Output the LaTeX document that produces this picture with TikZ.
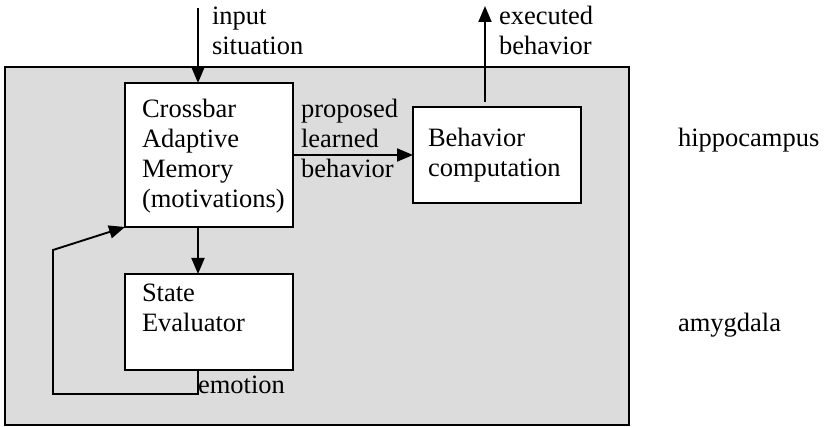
\documentclass[tikz,border=0pt]{standalone}
\usepackage{fontspec}
\setmainfont{Liberation Serif}
\usetikzlibrary{arrows.meta}
\definecolor{regionfill}{RGB}{220,220,220}
\begin{document}
\begin{tikzpicture}[x=1pt,y=-1pt,
  line width=1.9pt,
  boxnode/.style={draw=black, fill=white, rectangle, inner sep=0pt, outer sep=0pt,
    minimum width=168pt, anchor=north west},
  txt/.style={inner sep=0pt, outer sep=0pt, anchor=base west,
    font=\fontsize{26.5}{30}\selectfont},
  arr/.style={-{Triangle[length=16pt,width=13pt]}}]
  \useasboundingbox (0,0) rectangle (824,427);

  % enclosing region
  \node[draw=black, fill=regionfill, rectangle, inner sep=0pt, outer sep=0pt,
    minimum width=624pt, minimum height=358pt, anchor=north west] (region) at (5,67) {};

  % processing boxes
  \node[boxnode, minimum height=144pt] (cam) at (125,83) {};
  \node[boxnode, minimum height=96pt] (beh) at (413,107) {};
  \node[boxnode, minimum height=96pt] (se) at (125,274) {};

  % box texts
  \node[txt] (camtext) at (142,118) {\parbox[t]{150pt}{Crossbar\\Adaptive\\Memory\\(motivations)}};
  \node[txt] (behtext) at (428,147) {\parbox[t]{150pt}{Behavior\\computation}};
  \node[txt] (setext) at (142,302) {\parbox[t]{150pt}{State\\Evaluator}};

  % free labels
  \node[txt] (inlabel) at (212,25) {\parbox[t]{150pt}{input\\situation}};
  \node[txt] (outlabel) at (499,25) {\parbox[t]{150pt}{executed\\behavior}};
  \node[txt] (proplabel) at (301,118) {\parbox[t]{150pt}{proposed\\learned\\behavior}};
  \node[txt] (hippo) at (678,147) {hippocampus};
  \node[txt] (amyg) at (678,332) {amygdala};
  \node[txt] (emo) at (198,393) {emotion};

  % connector end points
  \coordinate (intop) at (198,8);
  \coordinate (outtop) at (485,6);
  \coordinate (fbcorner) at (53,394);
  \coordinate (fbbend) at (53,250);

  % connectors
  \draw[arr] (intop) -- (intop |- cam.north);
  \draw[arr] (cam.east) -- (beh.west);
  \draw[arr, shorten <=5pt] (outtop |- beh.north) -- (outtop);
  \draw[arr] (intop |- cam.south) -- (intop |- se.north);
  \draw[arr] (intop |- se.south) |- (fbcorner) -- (fbbend) -- (cam.south west);
\end{tikzpicture}
\end{document}
